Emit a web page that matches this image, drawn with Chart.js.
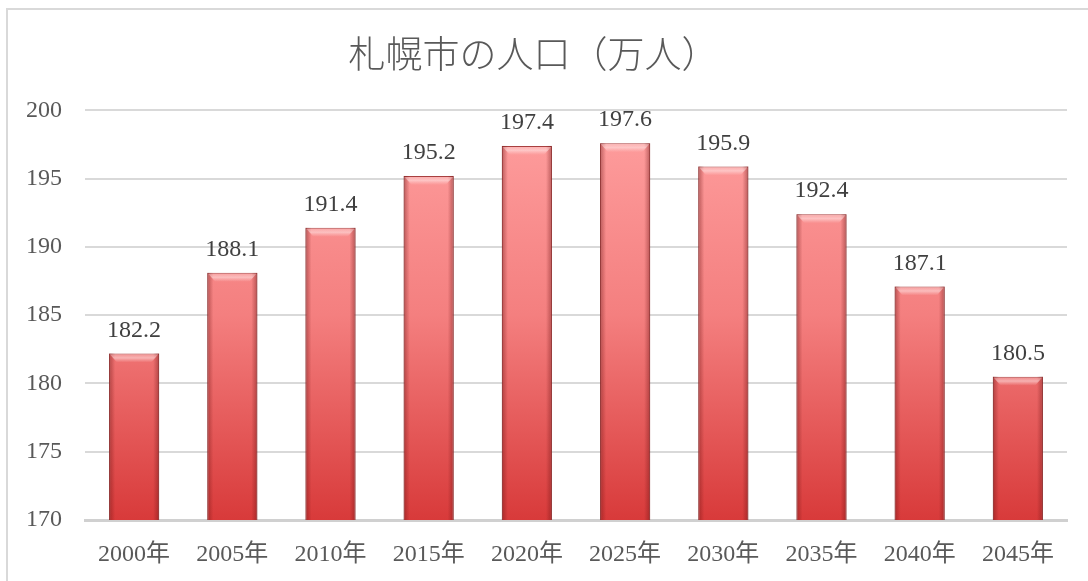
<!DOCTYPE html>
<html>
<head>
<meta charset="utf-8">
<script src="https://cdn.jsdelivr.net/npm/chart.js@4.4.0/dist/chart.umd.min.js"></script>
<style>
  html, body { margin: 0; padding: 0; background: #fff; }
  #wrap { position: relative; width: 1088px; height: 581px; }
  #frame { position: absolute; left: 6px; top: 8px; width: 1100px; height: 600px; border: 2px solid #d9d9d9; box-sizing: border-box; }
  canvas { position: absolute; left: 0; top: 0; }
</style>
</head>
<body>
<div id="wrap">
  <div id="frame"></div>
  <canvas id="chart" width="1088" height="581"></canvas>
</div>
<script>
var years = ['2000年', '2005年', '2010年', '2015年', '2020年', '2025年', '2030年', '2035年', '2040年', '2045年'];
var population = [182.2, 188.1, 191.4, 195.2, 197.4, 197.6, 195.9, 192.4, 187.1, 180.5];
var chartTitle = '札幌市の人口（万人）';
var yMin = 170;
var yMax = 200;
var yStep = 5;

var numFont = "'Liberation Serif', 'Noto Sans CJK JP', serif";

function barFill(context)
{
	var chart = context.chart;
	var area = chart.chartArea;
	if (!area) {
		return '#f07070';
	}
	var g = chart.ctx.createLinearGradient(0, area.top, 0, area.bottom);
	g.addColorStop(0, '#ffa0a0');
	g.addColorStop(0.5, '#f47f7f');
	g.addColorStop(1, '#d83a3a');
	return g;
}

// soft bevel: darker sides, light top edge, value labels above
var barExtras = {
	id: 'barExtras',
	afterDatasetsDraw: function(chart) {
		var ctx = chart.ctx;
		var area = chart.chartArea;
		var meta = chart.getDatasetMeta(0);
		ctx.save();
		meta.data.forEach(function(bar, i) {
			var w = bar.width;
			var left = bar.x - w / 2;
			var right = bar.x + w / 2;
			var top = bar.y;
			var bottom = area.bottom;

			var side = ctx.createLinearGradient(left, 0, right, 0);
			side.addColorStop(0, 'rgba(110,20,20,0.45)');
			side.addColorStop(0.12, 'rgba(110,20,20,0.0)');
			side.addColorStop(0.88, 'rgba(110,20,20,0.0)');
			side.addColorStop(1, 'rgba(110,20,20,0.45)');
			ctx.fillStyle = side;
			ctx.fillRect(left, top, w, bottom - top);

			var cap = ctx.createLinearGradient(0, top, 0, top + 9);
			cap.addColorStop(0, 'rgba(255,240,240,0.2)');
			cap.addColorStop(0.5, 'rgba(255,235,235,0.55)');
			cap.addColorStop(1, 'rgba(255,220,220,0.0)');
			ctx.fillStyle = cap;
			ctx.beginPath();
			ctx.moveTo(left + 1, top + 1);
			ctx.lineTo(right - 1, top + 1);
			ctx.lineTo(right - 8, top + 9);
			ctx.lineTo(left + 8, top + 9);
			ctx.closePath();
			ctx.fill();

			ctx.fillStyle = '#404040';
			ctx.font = '24px ' + numFont;
			ctx.textAlign = 'center';
			ctx.textBaseline = 'middle';
			ctx.fillText(population[i].toFixed(1), bar.x, top - 23);
		});
		ctx.restore();
	}
};

var ctx = document.getElementById('chart').getContext('2d');

var myChart = new Chart(ctx, {
	type: 'bar',
	data: {
		labels: years,
		datasets: [{
			data: population,
			backgroundColor: barFill,
			borderColor: '#a84040',
			borderWidth: 1,
			categoryPercentage: 1.0,
			barPercentage: 0.51
		}]
	},
	options: {
		responsive: false,
		animation: false,
		layout: {
			padding: { left: 0, right: 21, top: 0, bottom: 0 }
		},
		plugins: {
			legend: { display: false },
			tooltip: { enabled: false },
			title: {
				display: true,
				text: chartTitle,
				color: '#595959',
				font: { family: "'Noto Sans CJK JP', sans-serif", size: 37, weight: 300 },
				padding: { top: 32, bottom: 34 }
			}
		},
		scales: {
			x: {
				grid: { display: false, drawTicks: false },
				border: { display: true, color: '#d0d0d0', width: 3 },
				ticks: {
					color: '#595959',
					font: { family: numFont, size: 24 },
					padding: 20,
					maxRotation: 0
				},
				afterFit: function(scale) { scale.height = 61; }
			},
			y: {
				min: yMin,
				max: yMax,
				grid: { color: '#d9d9d9', lineWidth: 2, drawTicks: false },
				border: { display: false },
				ticks: {
					stepSize: yStep,
					color: '#595959',
					font: { family: numFont, size: 24 },
					padding: 23
				},
				afterFit: function(scale) { scale.width = 85; }
			}
		}
	},
	plugins: [barExtras]
});
</script>
</body>
</html>
